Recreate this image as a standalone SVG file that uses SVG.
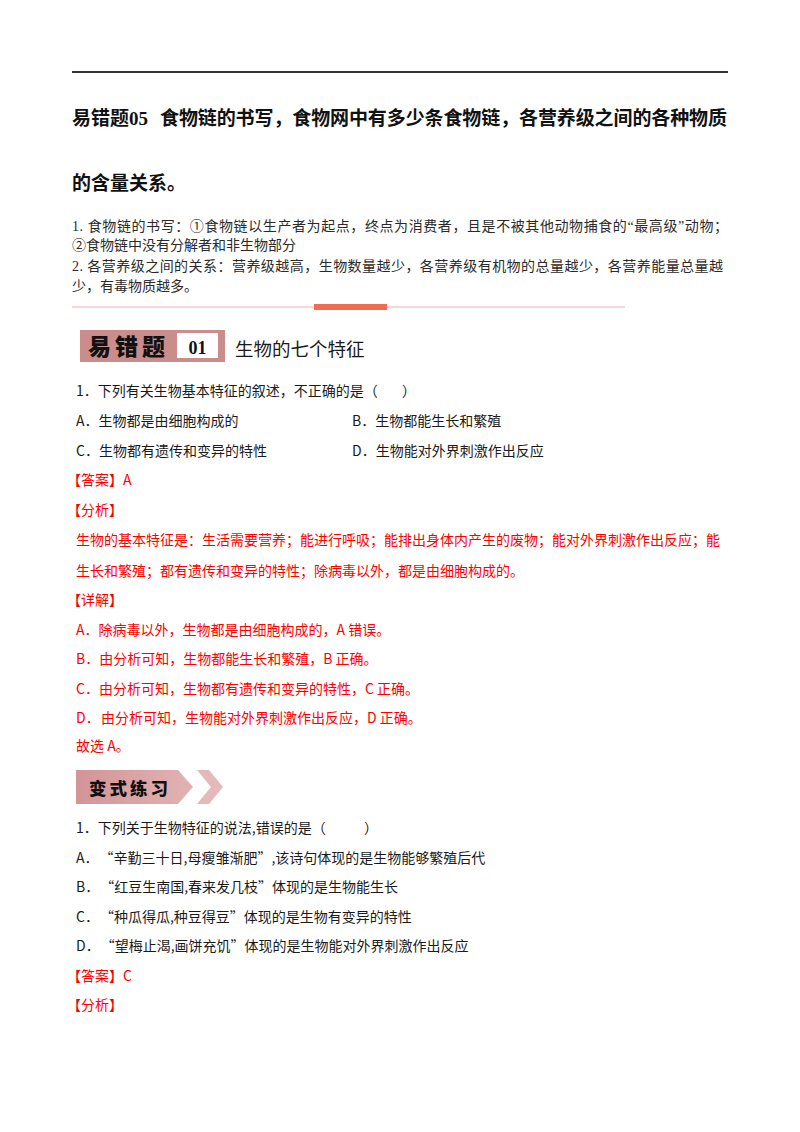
<svg xmlns="http://www.w3.org/2000/svg" width="800" height="1132" viewBox="0 0 800 1132">
<defs>
<style>
.h{font-family:"Liberation Serif","Noto Sans CJK SC",serif;font-weight:bold;font-size:19px;fill:#111}
.p{font-family:"Liberation Serif","Noto Sans CJK SC",serif;font-size:14px;fill:#2a2a2a}
.b{font-family:"Noto Sans CJK SC",sans-serif;font-size:14px;fill:#1a1a1a}
.r{font-family:"Noto Sans CJK SC",sans-serif;font-size:14px;fill:#ff0000}
.cal{font-family:"Noto Sans CJK SC",sans-serif;font-weight:900;fill:#111}
</style>
<linearGradient id="g2" x1="0" y1="0" x2="1" y2="0">
<stop offset="0" stop-color="#d29597"/>
<stop offset="1" stop-color="#e2b2b3"/>
</linearGradient>
</defs>
<rect width="800" height="1132" fill="#ffffff"/>

<g id="header">
<line x1="72" y1="72" x2="728" y2="72" stroke="#333" stroke-width="2"/>
<text class="h" x="72" y="125">易错题05<tspan x="160" textLength="567" lengthAdjust="spacing">食物链的书写，食物网中有多少条食物链，各营养级之间的各种物质</tspan></text>
<text class="h" x="72" y="190">的含量关系。</text>
<text class="p" x="72" y="231" textLength="656" lengthAdjust="spacing">1. 食物链的书写：①食物链以生产者为起点，终点为消费者，且是不被其他动物捕食的“最高级”动物；</text>
<text class="p" x="72" y="250">②食物链中没有分解者和非生物部分</text>
<text class="p" x="72" y="271" textLength="651" lengthAdjust="spacing">2. 各营养级之间的关系：营养级越高，生物数量越少，各营养级有机物的总量越少，各营养能量总量越</text>
<text class="p" x="72" y="291">少，有毒物质越多。</text>
</g>

<g id="separator">
<line x1="72" y1="307" x2="625" y2="307" stroke="#f2b2b0" stroke-width="1"/>
<rect x="314" y="304" width="73" height="6" fill="#ee6e52"/>
</g>

<g id="badge1">
<rect x="80" y="330" width="145" height="32" fill="#cb8d8b"/>
<text class="cal" x="88" y="355" font-size="23" letter-spacing="4">易错题</text>
<rect x="177" y="333" width="41" height="25" fill="#ffffff"/>
<text x="197.5" y="354" text-anchor="middle" font-family="Liberation Serif,serif" font-weight="bold" font-size="18" fill="#111">01</text>
<text class="b" x="235" y="356" style="font-size:18.5px">生物的七个特征</text>
</g>

<g id="question1">
<text class="b" x="76" y="396">1．下列有关生物基本特征的叙述，不正确的是（<tspan x="402">）</tspan></text>
<text class="b" x="76" y="426">A．生物都是由细胞构成的</text>
<text class="b" x="352" y="426">B．生物都能生长和繁殖</text>
<text class="b" x="76" y="456">C．生物都有遗传和变异的特性</text>
<text class="b" x="352" y="456">D．生物能对外界刺激作出反应</text>
<text class="r" x="67" y="485">【答案】A</text>
<text class="r" x="67" y="515">【分析】</text>
<text class="r" x="76" y="545">生物的基本特征是：生活需要营养；能进行呼吸；能排出身体内产生的废物；能对外界刺激作出反应；能</text>
<text class="r" x="76" y="576">生长和繁殖；都有遗传和变异的特性；除病毒以外，都是由细胞构成的。</text>
<text class="r" x="67" y="605">【详解】</text>
<text class="r" x="76" y="635">A．除病毒以外，生物都是由细胞构成的，A 错误。</text>
<text class="r" x="76" y="664">B．由分析可知，生物都能生长和繁殖，B 正确。</text>
<text class="r" x="76" y="694">C．由分析可知，生物都有遗传和变异的特性，C 正确。</text>
<text class="r" x="76" y="723">D．<tspan x="101">由分析可知，生物能对外界刺激作出反应，D 正确。</tspan></text>
<text class="r" x="76" y="751">故选 A。</text>
</g>

<g id="badge2">
<polygon points="76,770 178,770 193,787 178,804 76,804" fill="url(#g2)"/>
<polygon points="197,770 209,770 223,787 209,804 197,804 211,787" fill="#e5b9b9"/>
<text class="cal" x="89" y="795" font-size="17.5" letter-spacing="3">变式练习</text>
</g>

<g id="question2">
<text class="b" x="76" y="833">1．下列关于生物特征的说法,错误的是（<tspan x="364">）</tspan></text>
<text class="b" x="76" y="863">A．<tspan dx="8">“辛勤三十日,母瘦雏渐肥”,该诗句体现的是生物能够繁殖后代</tspan></text>
<text class="b" x="76" y="892">B．<tspan dx="8">“红豆生南国,春来发几枝”体现的是生物能生长</tspan></text>
<text class="b" x="76" y="922">C．<tspan dx="8">“种瓜得瓜,种豆得豆”体现的是生物有变异的特性</tspan></text>
<text class="b" x="76" y="951">D．<tspan dx="8">“望梅止渴,画饼充饥”体现的是生物能对外界刺激作出反应</tspan></text>
<text class="r" x="67" y="981">【答案】C</text>
<text class="r" x="67" y="1010">【分析】</text>
</g>
</svg>
